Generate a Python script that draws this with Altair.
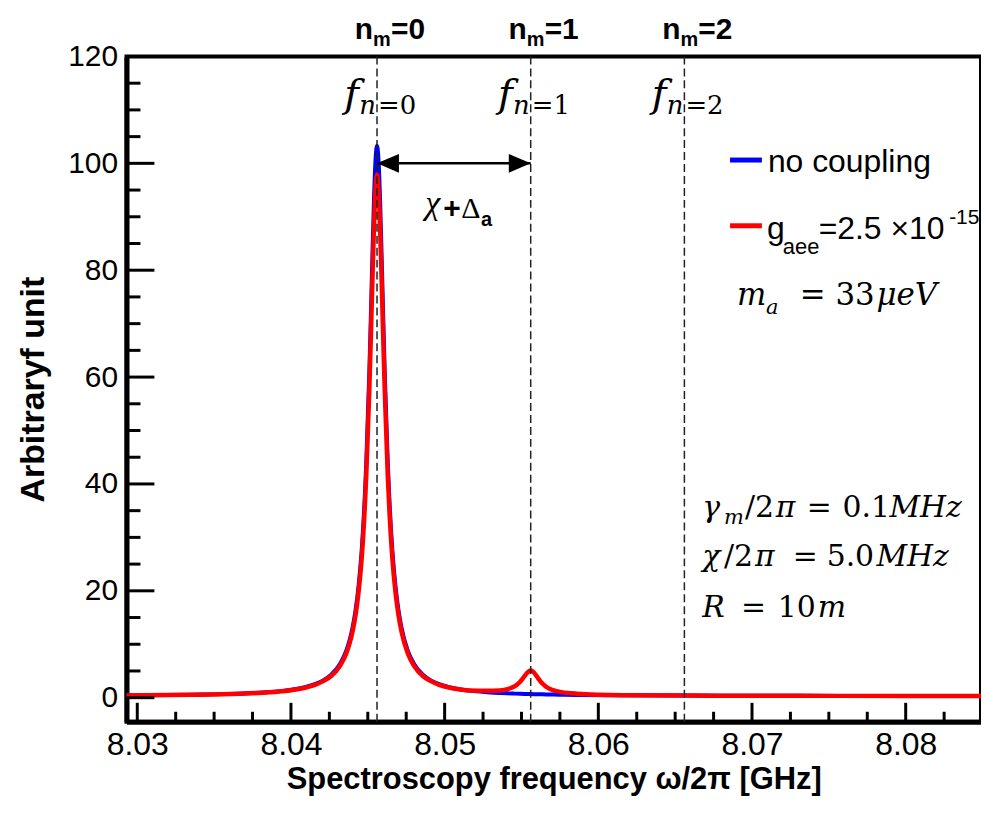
import altair as alt
import pandas as pd

# ---------------- data ----------------
freq = [8.0293, 8.0336, 8.0366, 8.0386, 8.0396, 8.0406, 8.0416, 8.0421, 8.0426, 8.0432,
        8.0436, 8.0438, 8.0440, 8.0442, 8.0444, 8.0446, 8.0448, 8.0449, 8.0451, 8.0452,
        8.0453, 8.0454, 8.0455, 8.0456, 8.0457, 8.0458, 8.0459, 8.0460, 8.0461, 8.0463,
        8.0464, 8.0466, 8.0468, 8.0470, 8.0472, 8.0476, 8.0480, 8.0486, 8.0491, 8.0496,
        8.0506, 8.0516, 8.0526, 8.0536, 8.0541, 8.0546, 8.0549, 8.0552, 8.0554, 8.0556,
        8.0558, 8.0560, 8.0563, 8.0566, 8.0571, 8.0576, 8.0586, 8.0616, 8.0656, 8.0706,
        8.0756, 8.0806, 8.0849]

no_coupling = [0.44, 0.56, 0.76, 1.05, 1.32, 1.76, 2.57, 3.24, 4.26, 6.36,
               8.8, 10.6, 13.0, 16.3, 20.9, 27.5, 37.4, 43.9, 61.1, 71.6,
               82.7, 93.0, 100.5, 103.3, 100.5, 93.0, 82.7, 71.6, 61.1, 43.9,
               37.4, 27.5, 20.9, 16.3, 13.0, 8.8, 6.36, 4.26, 3.24, 2.57,
               1.76, 1.32, 1.05, 0.88, 0.81, 0.76, 0.73, 0.70, 0.68, 0.67,
               0.66, 0.65, 0.63, 0.61, 0.58, 0.56, 0.52, 0.45, 0.39, 0.36,
               0.34, 0.33, 0.32]

with_coupling = [0.43, 0.54, 0.73, 1.01, 1.26, 1.68, 2.45, 3.1, 4.0, 6.0,
                 8.3, 10.0, 12.3, 15.4, 19.8, 26.0, 35.4, 41.5, 57.8, 67.7,
                 78.2, 87.9, 95.0, 97.9, 95.0, 87.9, 78.2, 67.7, 57.8, 41.5,
                 35.4, 26.0, 19.8, 15.4, 12.3, 8.3, 6.0, 4.0, 3.1, 2.45,
                 1.72, 1.36, 1.28, 1.36, 1.60, 2.21, 2.93, 4.02, 4.75, 5.07,
                 4.73, 3.97, 2.83, 2.06, 1.37, 1.04, 0.75, 0.47, 0.39, 0.36,
                 0.34, 0.33, 0.32]

mode_f = [8.0456, 8.0556, 8.0656]
mode_n = [0, 1, 2]
arrow_level = [100]

x_major = [8.03, 8.04, 8.05, 8.06, 8.07, 8.08]
x_minor = [8.0325, 8.035, 8.0375, 8.0425, 8.045, 8.0475, 8.0525, 8.055, 8.0575,
           8.0625, 8.065, 8.0675, 8.0725, 8.075, 8.0775, 8.0825]
y_major = [0, 20, 40, 60, 80, 100, 120]
y_minor = [5, 10, 15, 25, 30, 35, 45, 50, 55, 65, 70, 75, 85, 90, 95, 105, 110, 115]

x_domain = [8.0293, 8.0849]
y_domain = [-4.5, 120]

# ---------------- layout ----------------
W, H = 858, 668
X0, Y0 = 127, 55  # page position of the plot area
SANS = "Liberation Sans"
SERIF = "DejaVu Serif"

xs = alt.Scale(domain=x_domain, nice=False, zero=False)
ys = alt.Scale(domain=y_domain, nice=False, zero=False)

df = pd.DataFrame({"f": freq, "blue": no_coupling, "red": with_coupling})
modes = pd.DataFrame({"f": mode_f, "eq": ["=" + str(n) for n in mode_n]})
arrow = pd.DataFrame({"x1": [mode_f[0]], "x2": [mode_f[1]], "y": arrow_level})
one = alt.Data(values=[{"a": 1}])

x_axis = alt.Axis(values=x_major, format=".2f", ticks=False, tickSize=0, domain=True,
                  domainWidth=5, domainColor="black", grid=False, labelFont=SANS,
                  labelFontSize=32, labelPadding=8, labelColor="black", labelFlush=False,
                  labelOverlap=False,
                  title="Spectroscopy frequency  ω/2π [GHz]", titleFont=SANS,
                  titleFontSize=31, titleFontWeight="bold", titleColor="black",
                  titleX=W / 2, titleY=67, titleAlign="center", titleBaseline="alphabetic")
y_axis = alt.Axis(values=y_major, ticks=False, tickSize=0, domain=True, domainWidth=5,
                  domainColor="black", grid=False, labelFont=SANS, labelFontSize=30,
                  labelPadding=9, labelColor="black", labelOverlap=False,
                  title="Arbitraryf unit", titleFont=SANS, titleFontSize=34,
                  titleFontWeight="bold", titleColor="black", titleAngle=270,
                  titleX=-83, titleY=H / 2, titleAlign="center", titleBaseline="alphabetic")


def X(field):
    return alt.X(field, scale=xs, axis=x_axis)


def Y(field):
    return alt.Y(field, scale=ys, axis=y_axis)


blue_line = alt.Chart(df).mark_line(color="#0000ff", strokeWidth=4, interpolate="monotone").encode(
    x=X("f:Q"), y=Y("blue:Q"))
red_line = alt.Chart(df).mark_line(color="#ff0000", strokeWidth=4.5, interpolate="monotone").encode(
    x=X("f:Q"), y=Y("red:Q"))

dashes = alt.Chart(modes).mark_rule(color="#222222", strokeWidth=1.5, strokeDash=[8, 4]).encode(
    x=X("f:Q"))


# ticks drawn inside the frame
def yticks(vals, length):
    return alt.Chart(pd.DataFrame({"v": vals})).mark_rule(color="black", strokeWidth=3).encode(
        y=Y("v:Q"), x=alt.value(0), x2=alt.value(length))


def xticks(vals, length):
    return alt.Chart(pd.DataFrame({"v": vals})).mark_rule(color="black", strokeWidth=3).encode(
        x=X("v:Q"), y=alt.value(H), y2=alt.value(H - length))


# arrow chi + Delta
arrow_line = alt.Chart(arrow).mark_rule(color="black", strokeWidth=2.5).encode(
    x=X("x1:Q"), x2="x2:Q", y=Y("y:Q"))
head_l = alt.Chart(arrow).mark_point(shape="M0,0 L2,-0.85 L2,0.85 Z", size=484, filled=True,
                                     color="black", opacity=1, strokeWidth=0).encode(
    x=X("x1:Q"), y=Y("y:Q"))
head_r = alt.Chart(arrow).mark_point(shape="M0,0 L-2,-0.85 L-2,0.85 Z", size=484, filled=True,
                                     color="black", opacity=1, strokeWidth=0).encode(
    x=X("x2:Q"), y=Y("y:Q"))


def mode_txt(y, size, font, dx, align, style="normal", weight="normal", text=None):
    kw = dict(font=font, fontSize=size, fontStyle=style, fontWeight=weight, align=align,
              baseline="alphabetic", dx=dx, color="black")
    enc = dict(x=X("f:Q"), y=alt.value(y - Y0))
    if text is None:
        enc["text"] = alt.Text("eq:N")
    else:
        kw["text"] = text
    return alt.Chart(modes).mark_text(**kw).encode(**enc)


def txt(s, x, y, size, font=SANS, style="normal", weight="normal", align="left"):
    return alt.Chart(one).mark_text(text=s, font=font, fontSize=size, fontStyle=style,
                                    fontWeight=weight, align=align, baseline="alphabetic",
                                    color="black").encode(x=alt.value(x - X0), y=alt.value(y - Y0))


def seg(color, y):
    return alt.Chart(one).mark_rule(color=color, strokeWidth=5).encode(
        x=alt.value(733 - X0), x2=alt.value(765 - X0), y=alt.value(y - Y0))


texts = [
    # n_m = k above the frame
    mode_txt(37, 30, SANS, -4, "right", weight="bold", text="n"),
    mode_txt(44, 20, SANS, -4, "left", weight="bold", text="m"),
    mode_txt(37, 30, SANS, 14, "left", weight="bold"),
    # f_{n=k}
    mode_txt(106, 40, SERIF, -18, "right", style="italic", text="f"),
    mode_txt(113, 26, SERIF, -1, "right", style="italic", text="n"),
    mode_txt(113, 26, SERIF, 1, "left"),
    # chi + Delta_a
    txt("χ", 427, 213, 34, font="Liberation Serif", style="italic"),
    txt("+", 445, 217, 30, weight="bold"),
    txt("Δ", 463, 217, 30, font="Liberation Serif"),
    txt("a", 483, 225, 20, weight="bold"),
    # legend
    seg("#0000ff", 159), txt("no coupling", 771, 171, 32),
    seg("#ff0000", 225), txt("g", 770, 238, 32), txt("aee", 786, 253, 22),
    txt("=2.5 ×10", 822, 238, 32), txt("-15", 953, 223, 21),
    # m_a
    txt("m", 740, 305, 31, font=SERIF, style="italic"),
    txt("a", 769, 314, 21, font=SERIF, style="italic"),
    txt("= 33", 803, 305, 31, font=SERIF),
    txt("μeV", 880, 305, 31, font=SERIF, style="italic"),
    # parameters
    txt("γ", 705, 517, 30, font=SERIF, style="italic"),
    txt("m", 727, 524, 21, font=SERIF, style="italic"),
    txt("/2", 748, 517, 30, font=SERIF),
    txt("π", 779, 517, 30, font=SERIF, style="italic"),
    txt("=", 810, 517, 30, font=SERIF),
    txt("0.1", 846, 517, 30, font=SERIF),
    txt("MHz", 893, 517, 30, font=SERIF, style="italic"),
    txt("χ", 705, 567, 30, font=SERIF, style="italic"),
    txt("/2", 727, 567, 30, font=SERIF),
    txt("π", 758, 567, 30, font=SERIF, style="italic"),
    txt("=", 796, 567, 30, font=SERIF),
    txt("5.0", 830, 567, 30, font=SERIF),
    txt("MHz", 880, 567, 30, font=SERIF, style="italic"),
    txt("R", 705, 618, 30, font=SERIF, style="italic"),
    txt("=", 744, 618, 30, font=SERIF),
    txt("10", 781, 618, 30, font=SERIF),
    txt("m", 821, 618, 30, font=SERIF, style="italic"),
]

chart = alt.layer(
    blue_line, red_line, dashes,
    yticks(y_major, 28), yticks(y_minor, 14), xticks(x_major, 19), xticks(x_minor, 10),
    arrow_line, head_l, head_r,
    *texts,
).properties(
    width=W, height=H,
    background="white",
    autosize=alt.AutoSizeParams(type="none"),
    padding={"left": X0 - 8, "top": Y0 - 8, "right": 0, "bottom": 96},
).configure_view(stroke="black", strokeWidth=4)

chart.save("out.html", embed_options={"renderer": "svg", "actions": False})
